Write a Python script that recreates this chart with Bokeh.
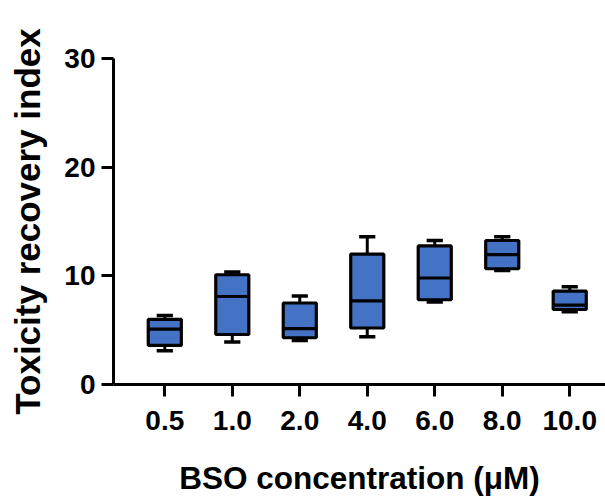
from bokeh.plotting import figure
from bokeh.models import Range1d, FixedTicker
from bokeh.embed import file_html
from bokeh.resources import INLINE

categories = ["0.5", "1.0", "2.0", "4.0", "6.0", "8.0", "10.0"]
whisker_low = [3.1, 3.9, 4.05, 4.4, 7.6, 10.5, 6.7]
q1 = [3.6, 4.6, 4.3, 5.2, 7.8, 10.65, 6.9]
median = [5.1, 8.1, 5.15, 7.7, 9.8, 11.95, 7.3]
q3 = [6.0, 10.1, 7.5, 12.0, 12.75, 13.25, 8.6]
whisker_high = [6.35, 10.35, 8.15, 13.6, 13.25, 13.6, 9.0]
y_ticks = [0, 10, 20, 30]
x_title = "BSO concentration (μM)"
y_title = "Toxicity recovery index"

xs = list(range(len(categories)))
box_w = 0.49
cap_w = 0.24
fill = "#4472C4"
font = "Liberation Sans"

p = figure(width=605, height=504, output_backend="svg", toolbar_location=None,
           x_range=Range1d(-0.76, 6.53), y_range=Range1d(0, 30),
           min_border_left=113, min_border_right=0, min_border_top=58, min_border_bottom=120)
p.outline_line_color = None
p.grid.visible = False
p.background_fill_color = "white"
p.border_fill_color = "white"

# whiskers
p.segment(x0=xs, y0=whisker_low, x1=xs, y1=q1, line_color="black", line_width=3)
p.segment(x0=xs, y0=q3, x1=xs, y1=whisker_high, line_color="black", line_width=3)
# caps
p.segment(x0=[x - cap_w / 2 for x in xs], y0=whisker_low, x1=[x + cap_w / 2 for x in xs], y1=whisker_low,
          line_color="black", line_width=3.5)
p.segment(x0=[x - cap_w / 2 for x in xs], y0=whisker_high, x1=[x + cap_w / 2 for x in xs], y1=whisker_high,
          line_color="black", line_width=3.5)
# boxes
p.vbar(x=xs, width=box_w, bottom=q1, top=q3, fill_color=fill, line_color="black", line_width=3.2)
# medians
p.segment(x0=[x - box_w / 2 for x in xs], y0=median, x1=[x + box_w / 2 for x in xs], y1=median,
          line_color="black", line_width=3.2)

for ax in (p.xaxis[0], p.yaxis[0]):
    ax.axis_line_width = 3
    ax.major_tick_line_width = 3
    ax.major_tick_out = 12
    ax.major_tick_in = 0
    ax.minor_tick_line_color = None
    ax.major_label_text_font = font
    ax.major_label_text_font_style = "bold"
    ax.major_label_text_font_size = "28px"
    ax.major_label_text_color = "black"
    ax.axis_label_text_font = font
    ax.axis_label_text_font_style = "bold"
    ax.axis_label_text_color = "black"

p.xaxis.ticker = FixedTicker(ticks=xs)
p.xaxis.major_label_overrides = {i: c for i, c in enumerate(categories)}
p.xaxis.major_label_standoff = 14
p.xaxis.axis_label = x_title
p.xaxis.axis_label_text_font_size = "31.5px"
p.xaxis.axis_label_standoff = 27

p.yaxis.ticker = FixedTicker(ticks=y_ticks)
p.yaxis.major_label_standoff = 6
p.yaxis.axis_label = y_title
p.yaxis.axis_label_text_font_size = "35px"
p.yaxis.axis_label_standoff = 14

open("out.html", "w").write(file_html(p, INLINE))
